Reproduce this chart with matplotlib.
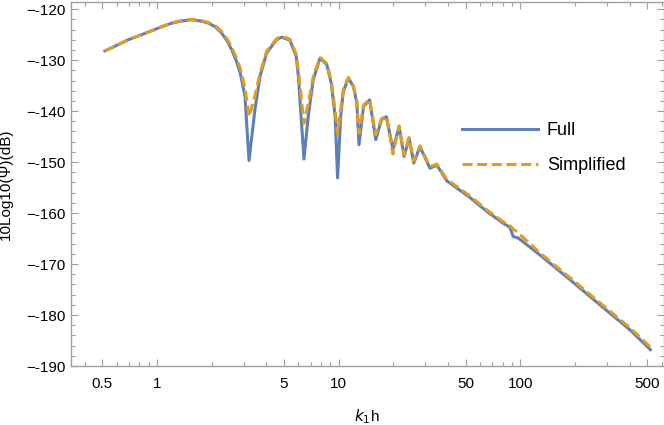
import numpy as np
import matplotlib
matplotlib.use("Agg")
import matplotlib.pyplot as plt
from matplotlib.ticker import FixedLocator, NullFormatter, MultipleLocator

plt.rcParams['font.family'] = ['Liberation Sans', 'DejaVu Sans']

# values (k1*h, dB)
k1h = [0.517, 0.6, 0.695, 0.81, 0.935, 1.07, 1.205, 1.38, 1.55, 1.73, 1.92, 2.1,
       2.27, 2.43, 2.58, 2.73, 2.87, 3.05, 3.21, 3.46, 3.69, 4.01, 4.55, 4.85,
       5.39, 5.84, 6.0, 6.44, 6.8, 7.24, 7.89, 8.6, 9.1, 9.56, 9.86, 10.26,
       10.6, 11.3, 12.05, 12.58, 12.94, 13.7, 14.8, 16.0, 17.2, 18.3, 19.9, 21.5,
       22.9, 24.4, 25.9, 28.0, 31.8, 34.7, 39.4, 52.1, 65.5, 80.5, 87.6, 91.3,
       97.3, 128, 188, 274, 401, 520]
full = [-128.2, -127.1, -126.0, -125.1, -124.25, -123.4, -122.75, -122.3, -122.1, -122.3,
        -122.75, -123.5, -124.7, -126.2, -128.0, -130.1, -132.5, -137.1, -149.7, -139.7,
        -133.2, -128.6, -126.0, -125.5, -126.1, -129.3, -133.2, -149.4, -141.0, -133.9,
        -129.6, -130.9, -134.5, -141.0, -153.1, -141.0, -136.2, -133.5, -135.2, -138.4,
        -146.6, -139.1, -137.8, -145.6, -141.7, -141.1, -147.5, -143.0, -148.9, -145.3,
        -150.2, -147.0, -151.2, -150.6, -153.7, -156.8, -159.7, -162.0, -162.8, -164.6,
        -164.9, -168.2, -173.1, -178.0, -182.9, -186.8]
simplified = [-128.2, -127.1, -126.0, -125.1, -124.25, -123.4, -122.7, -122.2, -122.0, -122.2,
              -122.6, -123.3, -124.4, -125.8, -127.5, -129.5, -131.6, -135.5, -141.1, -137.0,
              -132.6, -128.3, -125.8, -125.3, -125.9, -128.8, -132.0, -142.4, -138.5, -133.3,
              -129.4, -130.7, -134.0, -139.8, -144.5, -139.5, -135.8, -133.4, -135.0, -138.0,
              -144.3, -138.8, -137.7, -144.6, -141.5, -141.0, -148.4, -142.9, -148.6, -145.2,
              -149.8, -146.8, -150.9, -150.4, -153.4, -156.5, -159.4, -161.7, -162.5, -163.1,
              -163.9, -167.8, -172.7, -177.6, -182.5, -186.3]

x_major = [0.5, 1, 5, 10, 50, 100, 500]
x_major_labels = ['0.5', '1', '5', '10', '50', '100', '500']
x_minor = [0.4, 0.6, 0.7, 0.8, 0.9, 2, 3, 4, 6, 7, 8, 9, 20, 30, 40, 60, 70, 80, 90,
           200, 300, 400, 600]

blue = '#5E81B5'
orange = '#E19C24'
frame = '#A0A0A0'

fig = plt.figure(figsize=(6.64, 4.25), dpi=100)
ax = fig.add_axes([70.7 / 664, 59 / 425, 593 / 664, 364 / 425])

ax.plot(k1h, full, color=blue, lw=2.2, label='Full')
ln, = ax.plot(k1h, simplified, color=orange, lw=2.2, label='Simplified')
ln.set_dashes((3.3, 1.5))

ax.set_xscale('log')
ax.set_xlim(0.335, 615)
ax.set_ylim(-190, -118.6)

ax.xaxis.set_major_locator(FixedLocator(x_major))
ax.set_xticklabels(x_major_labels)
ax.xaxis.set_minor_locator(FixedLocator(x_minor))
ax.xaxis.set_minor_formatter(NullFormatter())
ax.yaxis.set_minor_locator(MultipleLocator(2))
ax.set_yticks(np.arange(-190, -119, 10))
ax.set_yticklabels(['\u2212%d' % (-v) for v in range(190, 119, -10)])

ax.tick_params(which='both', direction='in', top=True, right=True,
               color=frame, labelsize=11, labelcolor='black')
ax.tick_params(which='major', length=5, width=0.8)
ax.tick_params(which='minor', length=2.8, width=0.8)
ax.tick_params(axis='x', which='major', pad=8)
ax.tick_params(axis='y', which='major', pad=4)
for s in ax.spines.values():
    s.set_color(frame)
    s.set_linewidth(1.0)

ax.set_xlabel(r'$k_1$h', fontsize=11, labelpad=12)
ax.set_ylabel('10Log10(\u03a8)(dB)', fontsize=11)
ax.yaxis.set_label_coords(-0.097, 0.5)

leg = ax.legend(loc='center left', bbox_to_anchor=(0.66, 0.599), frameon=False,
                fontsize=13, handlelength=4.2, handletextpad=0.5,
                labelspacing=1.0, borderpad=0, borderaxespad=0)

fig.savefig('out.png', dpi=100)
